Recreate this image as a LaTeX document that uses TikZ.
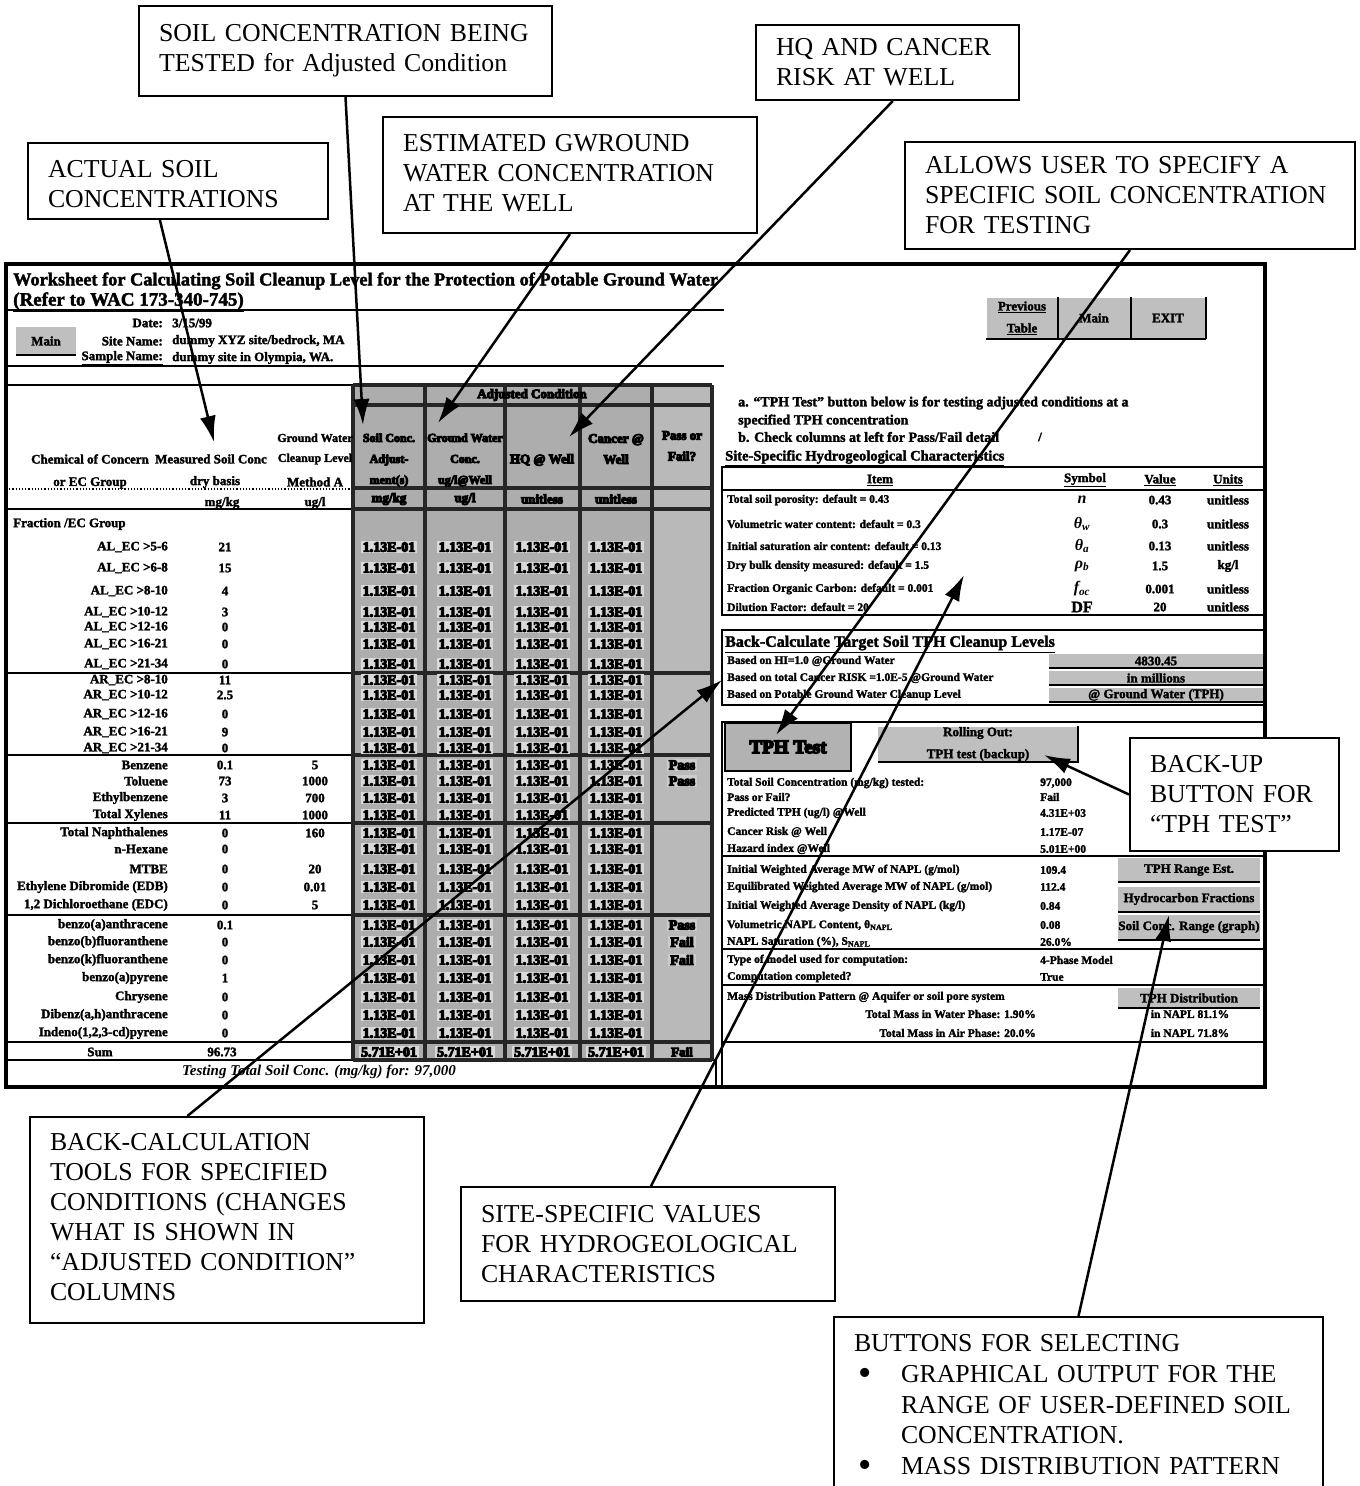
\documentclass[tikz,border=0pt]{standalone}
\usepackage{fontspec}
\setmainfont{Liberation Serif}
\newfontfamily\blurfont{Liberation Serif}[BoldFeatures={FakeBold=2}]
\newfontfamily\cellfont{Liberation Serif}[BoldFeatures={FakeBold=8}]
\usetikzlibrary{calc}
\usetikzlibrary{arrows.meta}
\begin{document}
\begin{tikzpicture}[
		x=1pt,y=-1pt,
		>={Latex[length=26pt,width=16pt]},
		callout/.style={draw,fill=white,line width=2pt,anchor=north west,align=left,inner xsep=20pt,inner ysep=0pt,font=\fontsize{25.8}{30}\selectfont},
		pointer/.style={->,line width=2.5pt},
		frameline/.style={line width=4pt},
		rule/.style={line width=2.5pt},
		thinrule/.style={line width=1.2pt},
		gridline/.style={line width=3.5pt,black!85},
		small/.style={font=\blurfont\bfseries\fontsize{13}{22}\selectfont,inner sep=0pt,align=center},
		smallr/.style={small,anchor=east},
		smalll/.style={small,anchor=west},
		itemtext/.style={smalll,font=\blurfont\bfseries\fontsize{11.5}{14}\selectfont},
		cellval/.style={small,font=\cellfont\bfseries\fontsize{14}{15}\selectfont,fill=gray!30,inner xsep=2pt,inner ysep=1pt},
		colhead/.style={small,font=\cellfont\bfseries\fontsize{13}{21}\selectfont},
		btn/.style={small,fill=gray!50},
		btnedge/.style={line width=2pt},
	]
	\useasboundingbox (0,0) rectangle (1360,1486);
	% worksheet
	\draw[frameline,fill=white] (6,264) rectangle (1265,1087);
	\fill[gray!64] (353,385) rectangle (652,1060);
	\fill[gray!55] (652,385) rectangle (712,1060);
	\draw[thinrule] (6,310) -- (724,310);
	\draw[thinrule] (6,366) -- (724,366);
	\draw[rule] (6,385) -- (353,385);
	\draw[thinrule,dotted] (6,489) -- (353,489);
	\draw[rule] (6,509) -- (353,509);
	\draw[thinrule] (6,673) -- (353,673);
	\foreach \y in {755,823,915,1042,1060}
		\draw[rule] (6,\y) -- (353,\y);
	\draw[rule] (353,1060) -- (716,1060);
	\foreach \x in {353,425,505,580,652,712}
		\draw[gridline] (\x,385) -- (\x,1060);
	\foreach \y in {385,509,673,755,823,915,1042,1060}
		\draw[gridline] (353,\y) -- (712,\y);
	\draw[gridline] (353,405) -- (712,405);
	\draw[gridline] (353,488) -- (712,488);
	\draw[rule] (716,1060) -- (716,1087);

	\node[smalll,font=\blurfont\bfseries\fontsize{18.3}{20}\selectfont] (title) at (13,281) {Worksheet for Calculating Soil Cleanup Level for the Protection of Potable Ground Water};
	\node[smalll,font=\blurfont\bfseries\fontsize{19}{20}\selectfont] (refer) at (13,302) {\underline{(Refer to WAC 173-340-745)}};
	\node[btn,minimum width=60pt,minimum height=28pt] (mainleft) at (46,341) {Main};
	\node[smallr] (datelabel) at (163,323) {Date:};
	\node[smalll] (dateval) at (172,323) {3/15/99};
	\node[smallr] (sitelabel) at (163,341) {Site Name:};
	\node[smalll] (siteval) at (172,341) {dummy XYZ site/bedrock, MA};
	\node[smallr] (samplelabel) at (163,358) {\underline{Sample Name:}};
	\node[smalll] (sampleval) at (172,358) {dummy site in Olympia, WA.};

	% left table heads
	\node[small] (chemhead) at (90,459) {Chemical of Concern};
	\node[small] (grouphead) at (90,483) {or EC Group};
	\node[small] (conchead) at (211,459) {Measured Soil Conc};
	\node[small] (basishead) at (215,482) {dry basis};
	\node[small] (mgkg) at (222,503) {mg/kg};
	\node[small,font=\blurfont\bfseries\fontsize{12}{20}\selectfont] (gwhead) at (315,449) {Ground Water\\Cleanup Level};
	\node[small] (methodhead) at (315,482) {Method A};
	\node[small] (ugl) at (315,503) {ug/l};
	\node[smalll] (fraction) at (13,524) {Fraction /EC Group};

	% adjusted columns
	\node[colhead] (adjusted) at (532,395) {Adjusted Condition};
	\node[colhead,font=\cellfont\bfseries\fontsize{12}{21}\selectfont] (soilhead) at (389,460) {Soil Conc.\\Adjust-\\ment(s)};
	\node[colhead,font=\cellfont\bfseries\fontsize{12}{21}\selectfont] (wellhead) at (465,460) {Ground Water\\Conc.\\ug/l@Well};
	\node[colhead] (hqhead) at (542,460) {HQ @ Well};
	\node[colhead] (riskhead) at (616,449) {Cancer @\\Well};
	\node[colhead] (passhead) at (682,446) {Pass or\\Fail?};
	\foreach \x/\unit [count=\i] in {389/{mg/kg},465/{ug/l},542/unitless,616/unitless}
		\node[colhead] (unit\i) at (\x,499) {\unit};

	\foreach \y/\chem/\conc/\lvl [count=\i] in {
		547/{AL\_EC >5-6}/21/{},568/{AL\_EC >6-8}/15/{},591/{AL\_EC >8-10}/4/{},612/{AL\_EC >10-12}/3/{},
		627/{AL\_EC >12-16}/0/{},644/{AL\_EC >16-21}/0/{},664/{AL\_EC >21-34}/0/{},680/{AR\_EC >8-10}/11/{},
		695/{AR\_EC >10-12}/2.5/{},714/{AR\_EC >12-16}/0/{},732/{AR\_EC >16-21}/9/{},748/{AR\_EC >21-34}/0/{},
		765/Benzene/0.1/5,781/Toluene/73/1000,798/Ethylbenzene/3/700,815/{Total Xylenes}/11/1000,
		833/{Total Naphthalenes}/0/160,849/n-Hexane/0/{},869/MTBE/0/20,887/{Ethylene Dibromide (EDB)}/0/0.01,
		905/{1,2 Dichloroethane (EDC)}/0/5,925/benzo(a)anthracene/0.1/{},942/benzo(b)fluoranthene/0/{},
		960/benzo(k)fluoranthene/0/{},978/benzo(a)pyrene/1/{},997/Chrysene/0/{},
		1015/{Dibenz(a,h)anthracene}/0/{},1033/{Indeno(1,2,3-cd)pyrene}/0/{}} {
		\node[smallr] (chem\i) at (168,\y) {\chem};
		\node[small] (conc\i) at (225,\y) {\conc};
		\node[small] (lvl\i) at (315,\y) {\lvl};
		\foreach \x in {389,465,542,616}
			\node[cellval] (val\i-\x) at (\x,\y) {1.13E-01};
	}
	\node[small] (sumlabel) at (100,1052) {Sum};
	\node[small] (sumval) at (222,1052) {96.73};
	\foreach \x in {389,465,542,616}
		\node[cellval] (sum\x) at (\x,1052) {5.71E+01};
	\node[colhead] (sumpass) at (682,1052) {Fail};
	\foreach \y/\res [count=\i] in {765/Pass,781/Pass,925/Pass,942/Fail,960/Fail}
		\node[cellval,fill=gray!40] (pass\i) at (682,\y) {\res};
	\node[small,font=\blurfont\bfseries\itshape\fontsize{15}{16}\selectfont] (testing) at (319,1072) {Testing Total Soil Conc. (mg/kg) for: 97,000};

	% right side, top
	\node[btn,minimum width=71pt,minimum height=41pt] (prevbtn) at (1022,318) {\underline{Previous}\\\underline{Table}};
	\node[btn,minimum width=73pt,minimum height=41pt] (mainbtn) at (1094,318) {Main};
	\node[btn,minimum width=75pt,minimum height=41pt] (exitbtn) at (1168,318) {EXIT};
	\node[smalll,font=\blurfont\bfseries\fontsize{14}{15}\selectfont] (notea) at (738,403) {a. “TPH Test” button below is for testing adjusted conditions at a};
	\node[smalll,font=\blurfont\bfseries\fontsize{14}{15}\selectfont] (noteb) at (738,421) {specified TPH concentration};
	\node[smalll,font=\blurfont\bfseries\fontsize{14}{15}\selectfont] (notec) at (738,437) {b. Check columns at left for Pass/Fail detail};
	\node[small] (slash) at (1040,437) {/};
	\node[smalll,font=\blurfont\bfseries\fontsize{14.5}{15}\selectfont] (sitehead) at (725,458) {\underline{Site-Specific Hydrogeological Characteristics}};

	\draw[rule] (722,467) rectangle (1265,615);
	\draw[rule] (722,490) -- (1265,490);
	\foreach \x/\head [count=\i] in {880/Item,1085/Symbol,1160/Value,1228/Units}
		\node[small] (sitecol\i) at (\x,480) {\underline{\head}};
	\foreach \y/\item/\sym/\val/\unit [count=\i] in {
		500/{Total soil porosity: default = 0.43}/\textit{n}/0.43/unitless,
		524/{Volumetric water content: default = 0.3}/\textit{θ\textsubscript{w}}/0.3/unitless,
		546/{Initial saturation air content: default = 0.13}/\textit{θ\textsubscript{a}}/0.13/unitless,
		566/{Dry bulk density measured: default = 1.5}/\textit{ρ\textsubscript{b}}/1.5/{kg/l},
		589/{Fraction Organic Carbon: default = 0.001}/\textit{f\textsubscript{oc}}/0.001/unitless,
		607/{Dilution Factor: default = 20}/DF/20/unitless} {
		\node[itemtext] (siteitem\i) at (727,\y) {\item};
		\node[small,font=\blurfont\bfseries\fontsize{16}{18}\selectfont] (sitesym\i) at (1082,\y) {\sym};
		\node[small] (siteval\i) at (1160,\y) {\val};
		\node[small] (siteunit\i) at (1228,\y) {\unit};
	}

	\draw[rule] (722,630) rectangle (1265,705);
	\node[smalll,font=\blurfont\bfseries\fontsize{16}{18}\selectfont] (backhead) at (725,644) {\underline{Back-Calculate Target Soil TPH Cleanup Levels}};
	\foreach \y/\item/\res [count=\i] in {
		661/{Based on HI=1.0 @Ground Water}/4830.45,
		678/{Based on total Cancer RISK =1.0E-5 @Ground Water}/{in millions},
		695/{Based on Potable Ground Water Cleanup Level}/{@ Ground Water (TPH)}} {
		\node[itemtext] (backitem\i) at (727,\y) {\item};
		\node[btn,minimum width=214pt,minimum height=14pt] (backbtn\i) at (1156,\y) {\res};
		\draw[btnedge] (backbtn\i.south west) -- (backbtn\i.south east);
	}

	% right side, test panel
	\draw[rule] (722,722) rectangle (1265,1087);
	\node[btn,fill=gray!60,draw,line width=2pt,minimum width=126pt,minimum height=48pt,font=\cellfont\bfseries\fontsize{19}{22}\selectfont] (tphbtn) at (788,747) {TPH Test};
	\node[btn,minimum width=200pt,minimum height=35pt] (rollbtn) at (978,744) {Rolling Out:\\TPH test (backup)};
	\draw[btnedge] (rollbtn.south west) -- (rollbtn.south east) -- (rollbtn.north east);
	\foreach \y/\item/\res [count=\i] in {
		783/{Total Soil Concentration (mg/kg) tested:}/{97,000},
		797/{Pass or Fail?}/Fail,
		813/{Predicted TPH (ug/l) @Well}/4.31E+03,
		832/{Cancer Risk @ Well}/1.17E-07,
		849/{Hazard index @Well}/5.01E+00,
		870/{Initial Weighted Average MW of NAPL (g/mol)}/109.4,
		887/{Equilibrated Weighted Average MW of NAPL (g/mol)}/112.4,
		906/{Initial Weighted Average Density of NAPL (kg/l)}/0.84,
		925/{Volumetric NAPL Content, θ\textsubscript{NAPL}}/0.08,
		942/{NAPL Saturation (\%), S\textsubscript{NAPL}}/26.0\%,
		960/{Type of model used for computation:}/4-Phase Model,
		977/{Computation completed?}/True} {
		\node[itemtext] (testitem\i) at (727,\y) {\item};
		\node[itemtext] (testval\i) at (1040,\y) {\res};
	}
	\foreach \y in {856,949,985,1042}
		\draw[rule] (722,\y) -- (1265,\y);
	\node[itemtext] (masshead) at (727,997) {Mass Distribution Pattern @ Aquifer or soil pore system};
	\node[itemtext,anchor=east] (masswater) at (1036,1014) {Total Mass in Water Phase: 1.90\%};
	\node[itemtext,anchor=east] (massair) at (1036,1033) {Total Mass in Air Phase: 20.0\%};
	\node[small,font=\blurfont\bfseries\fontsize{11.5}{14}\selectfont] (massnapl) at (1190,1014) {in NAPL 81.1\%};
	\node[small,font=\blurfont\bfseries\fontsize{11.5}{14}\selectfont] (massnaplb) at (1190,1033) {in NAPL 71.8\%};
	\node[btn,minimum width=142pt,minimum height=24pt] (rangebtn) at (1189,870) {TPH Range Est.};
	\node[btn,minimum width=142pt,minimum height=25pt] (fracbtn) at (1189,899) {Hydrocarbon Fractions};
	\node[btn,minimum width=142pt,minimum height=25pt] (graphbtn) at (1189,927) {Soil Conc. Range (graph)};
	\node[btn,minimum width=142pt,minimum height=20pt] (distbtn) at (1189,998) {TPH Distribution};
	\foreach \b in {mainleft,prevbtn,mainbtn,exitbtn,rangebtn,fracbtn,graphbtn,distbtn}
		\draw[btnedge] (\b.south west) -- (\b.south east);
	\foreach \b in {prevbtn,mainbtn,exitbtn}
		\draw[btnedge] (\b.south east) -- (\b.north east);

	% callouts
	\node[callout,text width=260pt,minimum height=76pt,text height=24pt] (actual) at (27,142) {ACTUAL SOIL\\CONCENTRATIONS};
	\node[callout,text width=373pt,minimum height=90pt] (soiltested) at (138,5) {SOIL CONCENTRATION BEING\\TESTED for Adjusted Condition};
	\node[callout,text width=334pt,minimum height=116pt,text depth=64pt] (gwround) at (382,116) {ESTIMATED GWROUND\\WATER CONCENTRATION\\AT THE WELL};
	\node[callout,text width=223pt,minimum height=75pt] (hqrisk) at (755,24) {HQ AND CANCER\\RISK AT WELL};
	\node[callout,text width=410pt,minimum height=107pt] (allows) at (904,141) {ALLOWS USER TO SPECIFY A\\SPECIFIC SOIL CONCENTRATION\\FOR TESTING};
	\node[callout,text width=354pt,minimum height=206pt,text depth=155.5pt] (backcalc) at (29,1116) {BACK-CALCULATION\\TOOLS FOR SPECIFIED\\CONDITIONS (CHANGES\\WHAT IS SHOWN IN\\``ADJUSTED CONDITION''\\COLUMNS};
	\node[callout,text width=334pt,minimum height=114pt] (sitevalues) at (460,1186) {SITE-SPECIFIC VALUES\\FOR HYDROGEOLOGICAL\\CHARACTERISTICS};
	\node[callout,text width=169pt,minimum height=113pt] (backup) at (1129,737) {BACK-UP\\BUTTON FOR\\``TPH TEST''};
	\node[callout,text width=449pt,minimum height=170pt,text height=25pt,font=\fontsize{25.8}{30.7}\selectfont] (buttons) at (833,1316) {BUTTONS FOR SELECTING\\
		\makebox[47pt][l]{\hspace{4pt}\raisebox{-3pt}{\fontsize{38}{30}\selectfont\textbullet}}GRAPHICAL OUTPUT FOR THE\\
		\hspace*{47pt}RANGE OF USER-DEFINED SOIL\\
		\hspace*{47pt}CONCENTRATION.\\
		\makebox[47pt][l]{\hspace{4pt}\raisebox{-3pt}{\fontsize{38}{30}\selectfont\textbullet}}MASS DISTRIBUTION PATTERN};

	% arrows
	\coordinate (actualtip) at (214,442);
	\coordinate (soiltip) at (363,425);
	\coordinate (gwtip) at (438,423);
	\coordinate (hqtip) at (569,437);
	\coordinate (tphtip) at (776,735);
	\coordinate (backtip) at (722,680);
	\coordinate (sitetip) at (964,575);
	\coordinate (rolltip) at (1044,755);
	\coordinate (graphtip) at (1169,915);
	\draw[pointer] ($(actual.south west)!0.44!(actual.south east)$) -- (actualtip);
	\draw[pointer] (soiltested.south) -- (soiltip);
	\draw[pointer] (gwround.south) -- (gwtip);
	\draw[pointer] ($(hqrisk.south west)!0.52!(hqrisk.south east)$) -- (hqtip);
	\draw[pointer] (allows.south) -- (tphtip);
	\draw[pointer] ($(backcalc.north west)!0.4!(backcalc.north east)$) -- (backtip);
	\draw[pointer] ($(sitevalues.north west)!0.508!(sitevalues.north east)$) -- (sitetip);
	\draw[pointer] (backup.west) -- (rolltip);
	\draw[pointer] (buttons.north) -- (graphtip);
\end{tikzpicture}
\end{document}
